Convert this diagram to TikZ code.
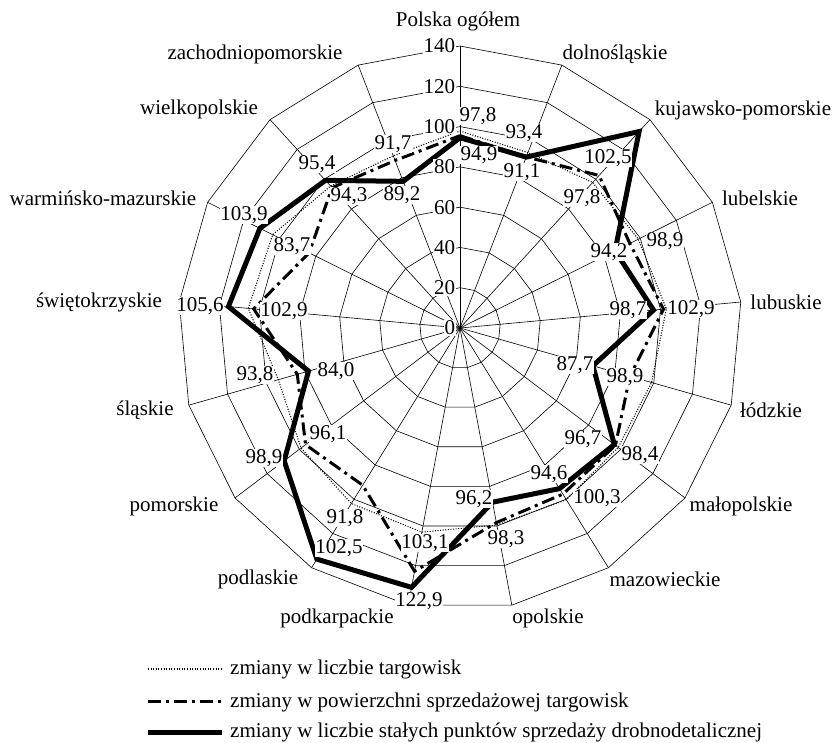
\documentclass[tikz,border=0pt]{standalone}
\usepackage{fontspec}
\setmainfont{Liberation Serif}
\begin{document}
\begin{tikzpicture}[x=1pt,y=-1pt,
  gridline/.style={line width=0.6pt,black},
  serdot/.style={line width=1.1pt,dash pattern=on 1pt off 1.6pt},
  serdd/.style={line width=3pt,dash pattern=on 13pt off 5pt on 3pt off 5pt},
  serthick/.style={line width=5pt,line join=miter},
  lab/.style={font=\fontsize{21}{21}\selectfont,inner sep=0pt},
  val/.style={font=\fontsize{21}{21}\selectfont,fill=white,inner sep=0.8pt},
  tk/.style={font=\fontsize{21}{21}\selectfont,fill=white,inner sep=0.8pt,anchor=east},
  leg/.style={font=\fontsize{21}{21}\selectfont,inner sep=0pt,anchor=base west}]
\useasboundingbox (0,0) rectangle (834,742);
\begin{scope}[shift={(460,328)}]
  \coordinate (O) at (0,0);
  % rings
  \foreach \r in {20,40,...,140}
    \draw[gridline] plot[variable=\t,samples at={0,...,16}] ({\t*360/17-90}:{\r*2.014}) -- cycle;
  % spokes
  \foreach \i in {0,...,16}
    \draw[gridline] (O) -- ({\i*360/17-90}:281.96) coordinate (A\i);
  % series points
  \foreach \v [count=\i from 0] in {97.8,93.4,97.8,98.9,102.9,98.9,98.4,100.3,99.5,103.1,102.5,98.9,93.8,105.6,103.9,95.4,91.7}
    \coordinate (D\i) at ({\i*360/17-90}:{\v*2.014});
  \foreach \v [count=\i from 0] in {95.5,91.1,102.5,94.2,101.5,87.7,96.7,97,98.3,122.9,91.8,96.1,84.0,102.9,83.7,94.3,89.2}
    \coordinate (M\i) at ({\i*360/17-90}:{\v*2.014});
  \foreach \v [count=\i from 0] in {94.5,91,132,86,96.5,68.6,96,93.8,88,131,135,109.4,78.2,115.5,111,99.2,78.1}
    \coordinate (T\i) at ({\i*360/17-90}:{\v*2.014});
  \draw[serdot] (D0) \foreach \i in {1,...,16}{ -- (D\i)} -- cycle;
  \draw[serdd] (M0) \foreach \i in {1,...,16}{ -- (M\i)} -- cycle;
  \draw[serthick] (T0) \foreach \i in {1,...,16}{ -- (T\i)} -- cycle;
\end{scope}
% axis scale labels
\foreach \v in {0,20,...,140}
  \node[tk] (tk\v) at (456,{328-\v*2.014}) {\v};
% value labels
\node[val] (v01) at (478,116) {97,8};
\node[val] (v02) at (479,155) {94,9};
\node[val] (v11) at (524,133) {93,4};
\node[val] (v12) at (522,172) {91,1};
\node[val] (v21) at (608,158) {102,5};
\node[val] (v22) at (582,198) {97,8};
\node[val] (v31) at (609,252) {94,2};
\node[val] (v32) at (665,241) {98,9};
\node[val] (v41) at (628,310) {98,7};
\node[val] (v42) at (691,309) {102,9};
\node[val] (v51) at (575,365) {87,7};
\node[val] (v52) at (625,377) {98,9};
\node[val] (v61) at (583,439) {96,7};
\node[val] (v62) at (640,455) {98,4};
\node[val] (v71) at (549,474) {94,6};
\node[val] (v72) at (597,498) {100,3};
\node[val] (v81) at (474,499) {96,2};
\node[val] (v82) at (506,539) {98,3};
\node[val] (v91) at (425,543) {103,1};
\node[val] (v92) at (419,601) {122,9};
\node[val] (va1) at (345,518) {91,8};
\node[val] (va2) at (339,548) {102,5};
\node[val] (vb1) at (328,434) {96,1};
\node[val] (vb2) at (264,458) {98,9};
\node[val] (vc1) at (255,375) {93,8};
\node[val] (vc2) at (336,371) {84,0};
\node[val] (vd1) at (200,306) {105,6};
\node[val] (vd2) at (284,311) {102,9};
\node[val] (ve1) at (244,215) {103,9};
\node[val] (ve2) at (292,246) {83,7};
\node[val] (vf1) at (317,164) {95,4};
\node[val] (vf2) at (349,196) {94,3};
\node[val] (vg1) at (393,144) {91,7};
\node[val] (vg2) at (402,195) {89,2};
% axis names
\node[lab] (n0) at (458,21) {Polska ogółem};
\node[lab] (n1) at (615,54) {dolnośląskie};
\node[lab] (n2) at (743,110) {kujawsko-pomorskie};
\node[lab] (n3) at (760,198) {lubelskie};
\node[lab] (n4) at (786,302) {lubuskie};
\node[lab] (n5) at (771,410) {łódzkie};
\node[lab] (n6) at (741,506) {małopolskie};
\node[lab] (n7) at (665,579) {mazowieckie};
\node[lab] (n8) at (548,618) {opolskie};
\node[lab] (n9) at (337,618) {podkarpackie};
\node[lab] (n10) at (258,579) {podlaskie};
\node[lab] (n11) at (174,506) {pomorskie};
\node[lab] (n12) at (145,410) {śląskie};
\node[lab] (n13) at (99,302) {świętokrzyskie};
\node[lab] (n14) at (103,198) {warmińsko-mazurskie};
\node[lab] (n15) at (199,109) {wielkopolskie};
\node[lab] (n16) at (255,54) {zachodniopomorskie};
% legend
\coordinate (L1a) at (148,669); \coordinate (L1b) at (222,669);
\coordinate (L2a) at (148,701); \coordinate (L2b) at (222,701);
\coordinate (L3a) at (148,732); \coordinate (L3b) at (222,732);
\draw[serdot] (L1a) -- (L1b);
\draw[serdd] (L2a) -- (L2b);
\draw[line width=5pt] (L3a) -- (L3b);
\node[leg] (g1) at (230,674.5) {zmiany w liczbie targowisk};
\node[leg] (g2) at (230,707) {zmiany w powierzchni sprzedażowej targowisk};
\node[leg] (g3) at (230,737.5) {zmiany w liczbie stałych punktów sprzedaży drobnodetalicznej};
\end{tikzpicture}
\end{document}
